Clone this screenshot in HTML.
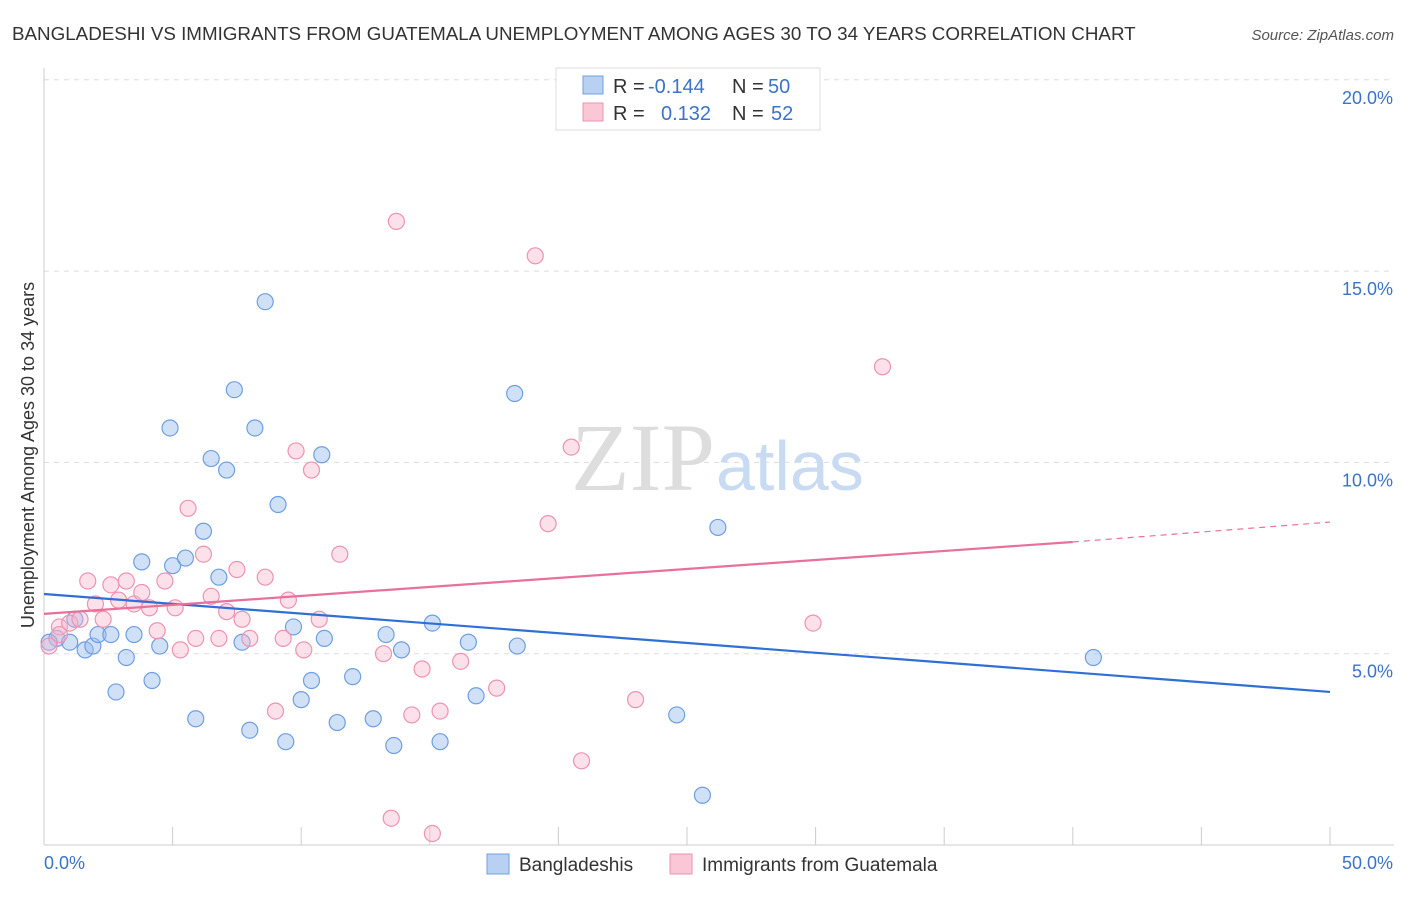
<!DOCTYPE html>
<html><head><meta charset="utf-8"><style>
body{margin:0;background:#fff;font-family:"Liberation Sans",sans-serif}
svg text{font-family:"Liberation Sans",sans-serif}
</style></head><body>
<svg width="1406" height="892" xmlns="http://www.w3.org/2000/svg">
<text x="12" y="40" font-size="18.8" fill="#333">BANGLADESHI VS IMMIGRANTS FROM GUATEMALA UNEMPLOYMENT AMONG AGES 30 TO 34 YEARS CORRELATION CHART</text>
<text x="1394" y="40" font-size="15" fill="#555" font-style="italic" text-anchor="end">Source: ZipAtlas.com</text>
<g id="grid"></g>
<text x="715" y="490" font-size="96" fill="#ddd" text-anchor="end" style="font-family:'Liberation Serif',serif">ZIP</text>
<text x="716" y="490" font-size="70" fill="#c9dbf2">atlas</text>
<g id="marks"></g>
<text transform="translate(34,455) rotate(-90)" font-size="18" fill="#333" text-anchor="middle">Unemployment Among Ages 30 to 34 years</text>
<text x="44" y="869" font-size="18" fill="#3b73c8">0.0%</text>
<text x="1393" y="869" font-size="18" fill="#3b73c8" text-anchor="end">50.0%</text>
<g>
<rect x="556" y="68" width="264" height="62" fill="#fff" stroke="#ddd"/>
<rect x="583" y="76" width="20" height="18" fill="#b8d1f3" stroke="#6f9fe0"/>
<rect x="583" y="103" width="20" height="18" fill="#fac7d6" stroke="#ee93b0"/>
<text x="613" y="93" font-size="20" fill="#333">R = </text>
<text x="648" y="93" font-size="20" fill="#3b73c8">-0.144</text>
<text x="732" y="93" font-size="20" fill="#333">N = </text>
<text x="768" y="93" font-size="20" fill="#3b73c8">50</text>
<text x="613" y="120" font-size="20" fill="#333">R = </text>
<text x="661" y="120" font-size="20" fill="#3b73c8">0.132</text>
<text x="732" y="120" font-size="20" fill="#333">N = </text>
<text x="771" y="120" font-size="20" fill="#3b73c8">52</text>
</g>
<g>
<rect x="487" y="854" width="22" height="20" fill="#b8d1f3" stroke="#6f9fe0"/>
<text x="519" y="871" font-size="19" fill="#333">Bangladeshis</text>
<rect x="670" y="854" width="22" height="20" fill="#fac7d6" stroke="#ee93b0"/>
<text x="702" y="871" font-size="19" fill="#333">Immigrants from Guatemala</text>
</g>
</svg>
<script>
const blueX=[0.5,1.0,1.2,1.6,1.9,2.1,2.6,2.8,3.2,3.5,3.8,4.2,4.5,4.9,5.0,5.5,5.9,6.2,6.5,6.8,7.1,7.4,7.7,8.0,8.2,8.6,9.1,9.4,9.7,10.0,10.4,10.8,10.9,11.4,12.0,12.8,13.3,13.6,13.9,15.1,15.4,16.5,16.8,18.3,18.4,24.6,25.6,26.2,40.8,0.2];
const blueY=[5.4,5.3,5.9,5.1,5.2,5.5,5.5,4.0,4.9,5.5,7.4,4.3,5.2,10.9,7.3,7.5,3.3,8.2,10.1,7.0,9.8,11.9,5.3,3.0,10.9,14.2,8.9,2.7,5.7,3.8,4.3,10.2,5.4,3.2,4.4,3.3,5.5,2.6,5.1,5.8,2.7,5.3,3.9,11.8,5.2,3.4,1.3,8.3,4.9,5.3];
const pinkX=[0.2,0.6,1.0,1.4,1.7,2.0,2.3,2.6,2.9,3.2,3.5,3.8,4.1,4.4,4.7,5.1,5.3,5.6,5.9,6.2,6.5,6.8,7.1,7.5,7.7,8.0,8.6,9.0,9.3,9.5,9.8,10.1,10.4,10.7,11.5,13.2,13.5,13.7,14.3,14.7,15.1,15.4,16.2,17.6,19.1,19.6,20.5,20.9,23.0,29.9,32.6,0.6];
const pinkY=[5.2,5.7,5.8,5.9,6.9,6.3,5.9,6.8,6.4,6.9,6.3,6.6,6.2,5.6,6.9,6.2,5.1,8.8,5.4,7.6,6.5,5.4,6.1,7.2,5.9,5.4,7.0,3.5,5.4,6.4,10.3,5.1,9.8,5.9,7.6,5.0,0.7,16.3,3.4,4.6,0.3,3.5,4.8,4.1,15.4,8.4,10.4,2.2,3.8,5.8,12.5,5.5];
const blueTrend=[[0,6.56],[50,4.0]];
const pinkTrend=[[0,6.04],[40,7.92]];
const pinkDash=[[40,7.92],[50,8.44]];
const yTicks=[5,10,15,20];
const xTickVals=[0,5,10,15,20,25,30,35,40,45,50];
const X=v=>44+v/50*1286, Y=v=>845-v*38.26;
const NS='http://www.w3.org/2000/svg';
const mk=(p,t,a)=>{const e=document.createElementNS(NS,t);for(const k in a)e.setAttribute(k,a[k]);p.appendChild(e);return e;};
const grid=document.getElementById('grid'),marks=document.getElementById('marks');
yTicks.forEach(v=>{
 const l=mk(grid,'line',{x1:44,x2:1394,y1:Y(v),y2:Y(v),stroke:'#ddd','stroke-dasharray':'5,5'});
 
 
 const t=mk(grid,'text',{x:1393,y:Y(v)+24,'font-size':18,fill:'#3b73c8','text-anchor':'end'});
 t.textContent=v.toFixed(1)+'%';
 
 
});
const ax=mk(grid,'line',{x1:44,x2:1394,y1:845,y2:845,stroke:'#ccc'});


const ay=mk(grid,'line',{x1:44,x2:44,y1:68,y2:845,stroke:'#ccc'});


xTickVals.forEach(v=>{
 const l=mk(grid,'line',{x1:X(v),x2:X(v),y1:827,y2:845,stroke:'#ccc'});
 
 
});
blueX.forEach((x,i)=>{
 const c=mk(marks,'circle',{cx:X(x),cy:Y(blueY[i]),r:8,fill:'rgba(150,188,238,0.45)',stroke:'#6f9fe0','stroke-width':1.2});
 
 
});
pinkX.forEach((x,i)=>{
 const c=mk(marks,'circle',{cx:X(x),cy:Y(pinkY[i]),r:8,fill:'rgba(248,180,202,0.4)',stroke:'#ee93b0','stroke-width':1.2});
 
 
});
const ln=(p,col,dash,name)=>{const l=mk(marks,'line',{x1:X(p[0][0]),y1:Y(p[0][1]),x2:X(p[1][0]),y2:Y(p[1][1]),stroke:col,'stroke-width':dash?1.2:2.2});if(dash)l.setAttribute('stroke-dasharray','6,5');
 
 };
ln(blueTrend,'#2f6fd6',false,'bangladeshi-trendline');
ln(pinkTrend,'#e8709a',false,'guatemala-trendline');
ln(pinkDash,'#e8709a',true,'guatemala-trendline-extension');
</script>
</body></html>
